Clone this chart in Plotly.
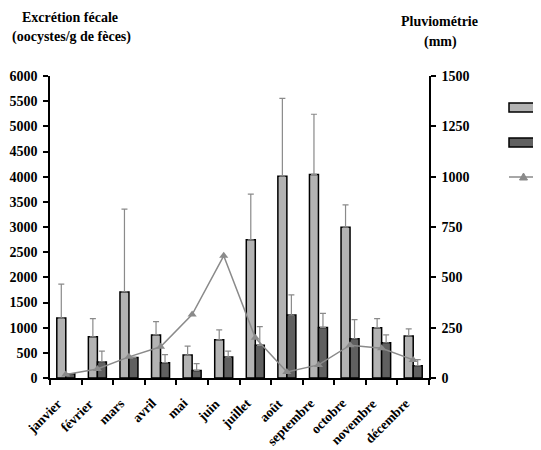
import plotly.graph_objects as go

months = ["janvier", "février", "mars", "avril", "mai", "juin", "juillet",
          "août", "septembre", "octobre", "novembre", "décembre"]
light_vals = [1190, 820, 1710, 855, 455, 760, 2745, 4010, 4045, 2995, 1000, 835]
light_err_top = [1865, 1180, 3355, 1120, 635, 955, 3655, 5555, 5240, 3440, 1180, 975]
dark_vals = [85, 320, 405, 305, 150, 415, 650, 1250, 1005, 780, 700, 245]
dark_err_top = [85, 535, 405, 465, 285, 535, 1020, 1650, 1285, 1160, 855, 365]
rain_mm = [17, 45, 105, 155, 315, 607, 200, 30, 65, 163, 148, 90]

left_ticks = list(range(0, 6001, 500))
right_ticks = list(range(0, 1501, 250))

FONT = "Liberation Serif, serif"
LIGHT = "#b3b3b3"
DARK = "#606060"
GREY = "#8a8a8a"

light_plus = [t - v for t, v in zip(light_err_top, light_vals)]
dark_plus = [t - v for t, v in zip(dark_err_top, dark_vals)]

fig = go.Figure()
fig.add_trace(go.Bar(
    x=months, y=light_vals, marker=dict(color=LIGHT, line=dict(color="black", width=1.5)),
    error_y=dict(type="data", symmetric=False, array=light_plus, arrayminus=[0] * 12,
                 color=GREY, thickness=1.2, width=3),
    showlegend=False,
))
fig.add_trace(go.Bar(
    x=months, y=dark_vals, marker=dict(color=DARK, line=dict(color="black", width=1.5)),
    error_y=dict(type="data", symmetric=False, array=dark_plus, arrayminus=[0] * 12,
                 color=GREY, thickness=1.2, width=3),
    showlegend=False,
))
fig.add_trace(go.Scatter(
    x=months, y=rain_mm, yaxis="y2", mode="lines+markers",
    line=dict(color=GREY, width=1.5),
    marker=dict(symbol="triangle-up", size=8, color=GREY),
    showlegend=False,
))

axis_font = dict(family=FONT, size=14, color="black", weight="bold")
month_font = dict(family=FONT, size=13.5, color="black", weight="bold")

# the page body adds an 8 px offset, so the figure is 8 px smaller than the window
fig.update_layout(
    width=533, height=442,
    margin=dict(l=42, r=112, t=68, b=72, autoexpand=False),
    paper_bgcolor="white", plot_bgcolor="white",
    barmode="group", bargap=0.43, bargroupgap=0,
    font=dict(family=FONT, color="black"),
    xaxis=dict(
        type="category", categoryorder="array", categoryarray=months,
        range=[-0.5, len(months) - 0.5], autorange=False,
        tickson="boundaries", ticks="outside", ticklen=5,
        tickwidth=1.5, tickcolor="black", showline=True, linecolor="black", linewidth=1.5,
        showticklabels=False, showgrid=False, zeroline=False, automargin=False,
    ),
    yaxis=dict(
        range=[0, 6000], tickvals=left_ticks, ticktext=[str(v) for v in left_ticks],
        ticks="outside", ticklen=5, tickwidth=1.5, tickcolor="black",
        showline=True, linecolor="black", linewidth=1.5, tickfont=axis_font,
        showgrid=False, zeroline=False, ticklabelstandoff=3, automargin=False,
    ),
    yaxis2=dict(
        range=[0, 1500], tickvals=right_ticks, ticktext=[str(v) for v in right_ticks],
        overlaying="y", side="right", ticks="outside", ticklen=5, tickwidth=1.5,
        tickcolor="black", showline=True, linecolor="black", linewidth=1.5,
        tickfont=axis_font, showgrid=False, zeroline=False, ticklabelstandoff=3,
        automargin=False,
    ),
)

title_font = dict(family=FONT, size=14, color="black", weight="bold")


def px(xp):
    return (xp - 50) / 379


def py(yp):
    return (378 - yp) / 302


# month labels, rotated, right end just under each category
for m in months:
    fig.add_annotation(text=m, xref="x", yref="paper", x=m, y=py(394.5),
                       xanchor="right", yanchor="top", textangle=-45, borderpad=0,
                       showarrow=False, font=month_font)

for txt, x, y in [("Excrétion fécale", 70, 17), ("(oocystes/g de fèces)", 71, 37),
                  ("Pluviométrie", 439, 22), ("(mm)", 440, 42)]:
    fig.add_annotation(text=txt, xref="paper", yref="paper", x=px(x), y=py(y),
                       xanchor="center", yanchor="middle", showarrow=False, font=title_font)

# legend keys (the original legend has no labels)
fig.add_shape(type="rect", xref="paper", yref="paper", x0=px(509), x1=px(538),
              y0=py(112), y1=py(103), fillcolor=LIGHT, line=dict(color="black", width=1.5))
fig.add_shape(type="rect", xref="paper", yref="paper", x0=px(509), x1=px(538),
              y0=py(147), y1=py(138), fillcolor=DARK, line=dict(color="black", width=1.5))
fig.add_shape(type="line", xref="paper", yref="paper", x0=px(509), x1=px(538),
              y0=py(177), y1=py(177), line=dict(color=GREY, width=1.5))
fig.add_shape(type="path", xref="paper", yref="paper", xsizemode="pixel", ysizemode="pixel",
              xanchor=px(523.5), yanchor=py(177),
              path="M -4,-3 L 4,-3 L 0,4 Z", fillcolor=GREY, line=dict(color=GREY, width=1))

fig.write_html("out.html")
